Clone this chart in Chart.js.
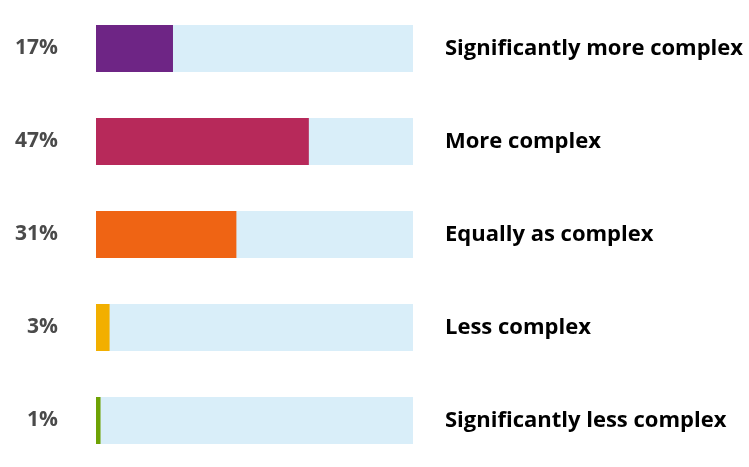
<!DOCTYPE html>
<html>
<head>
<meta charset="utf-8">
<script src="https://cdn.jsdelivr.net/npm/chart.js@4/dist/chart.umd.min.js"></script>
<style>
  html, body { margin: 0; padding: 0; background: #fff; }
  #wrap { width: 749px; height: 467px; }
</style>
</head>
<body>
<div id="wrap"><canvas id="myChart"></canvas></div>
<script>
  // survey answers, top to bottom
  const categories = ["Significantly more complex", "More complex", "Equally as complex", "Less complex", "Significantly less complex"]
  const shares = [17, 47, 31, 3, 1]
  const barColors = ["#6e2585", "#b7295a", "#ef6414", "#f2af00", "#6ea204"]
  // the light track behind each bar runs to the end of the scale
  const trackMax = 70
  const trackValues = categories.map(() => trackMax)

  const FONT = "'Open Sans', 'DejaVu Sans', sans-serif"

  // tick padding also pads the top/bottom of a vertical axis, undo that
  function noVerticalPadding(scale, width) {
    scale.width = width
    scale.paddingTop = 0
    scale.paddingBottom = 0
  }

  var ctx = document.getElementById('myChart').getContext('2d');
  var myChart = new Chart(ctx, {
    type: 'bar',
    data: {
      labels: categories,
      datasets: [{
        label: 'Share',
        data: shares,
        backgroundColor: barColors,
        grouped: false,
        categoryPercentage: 1,
        barPercentage: 0.505
      }, {
        label: 'Track',
        data: trackValues,
        backgroundColor: '#d9eef9',
        grouped: false,
        categoryPercentage: 1,
        barPercentage: 0.505
      }]
    },
    options: {
      indexAxis: 'y',
      responsive: true,
      maintainAspectRatio: false,
      animation: false,
      layout: { padding: { top: 2, bottom: 0, left: 0, right: 0 } },
      plugins: { legend: { display: false }, tooltip: { enabled: false } },
      scales: {
        x: {
          display: false,
          min: 0,
          max: trackMax
        },
        y: {
          position: 'left',
          grid: { display: false, drawTicks: false },
          border: { display: false },
          ticks: {
            padding: 38,
            color: '#4a4a4a',
            font: { family: FONT, size: 21, weight: 'bold' },
            callback: function(value, index) { return shares[index] + '%' }
          },
          afterFit: function(scale) { noVerticalPadding(scale, 96) }
        },
        y2: {
          position: 'right',
          type: 'category',
          labels: categories,
          grid: { display: false, drawTicks: false },
          border: { display: false },
          ticks: {
            padding: 32,
            color: '#000',
            font: { family: FONT, size: 22, weight: 'bold' }
          },
          afterFit: function(scale) { noVerticalPadding(scale, 336) }
        }
      }
    }
  });
</script>
</body>
</html>
